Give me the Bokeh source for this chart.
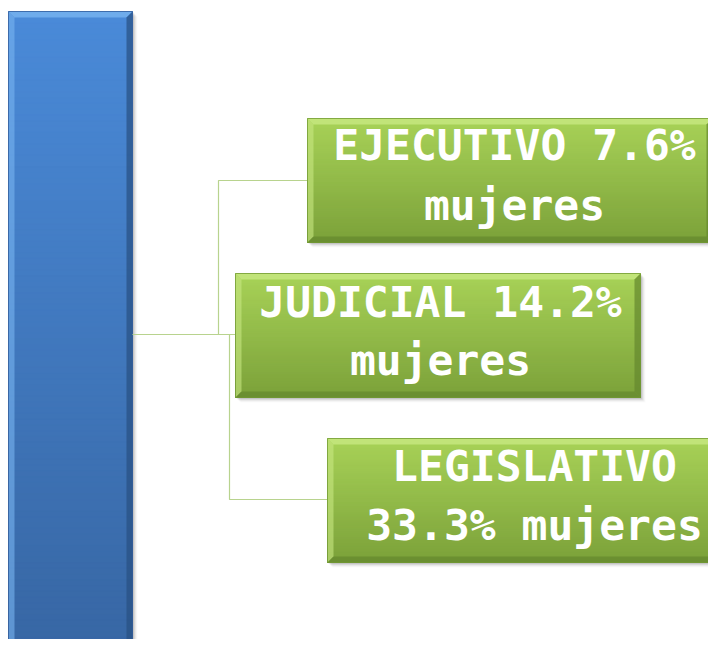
from bokeh.plotting import figure
from bokeh.models import Range1d
from bokeh.core.properties import value
from bokeh.embed import file_html
from bokeh.resources import INLINE

# ---- data ----
branches = ["EJECUTIVO", "JUDICIAL", "LEGISLATIVO"]
women_pct = [7.6, 14.2, 33.3]
unit = "mujeres"

line1 = [f"{branches[0]} {women_pct[0]}%", f"{branches[1]} {women_pct[1]}%", branches[2]]
line2 = [unit, unit, f"{women_pct[2]}% {unit}"]

# ---- layout (screen-pixel coordinates) ----
bar = dict(l=8, t=11, r=132, b=700)
boxes = [dict(l=307, t=118, r=712, b=242, tx=514, y1=144, y2=204, cy=180),
         dict(l=235, t=273, r=640, b=397, tx=440, y1=301, y2=359, cy=334),
         dict(l=327, t=438, r=745, b=562, tx=534, y1=465, y2=524, cy=499)]

p = figure(width=708, height=639, output_backend="svg", toolbar_location=None,
           x_range=Range1d(0, 708), y_range=Range1d(639, 0),
           min_border=0, outline_line_color=None, background_fill_color="white",
           border_fill_color="white")
p.axis.visible = False
p.grid.visible = False


def hexc(c):
    return "#%02x%02x%02x" % tuple(int(round(v)) for v in c)


def lerp(a, b, t):
    return tuple(a[i] + (b[i] - a[i]) * t for i in range(3))


def gradient_box(b, top_c, bot_c, light_c, dark_c, edge_c, n=40, bev=5, shadow=True):
    l, t, r, bt = b["l"], b["t"], b["r"], b["b"]
    if shadow:
        for k, a in zip(range(1, 6), [0.10, 0.08, 0.06, 0.04, 0.02]):
            p.quad(left=l + k, right=r + k, top=t + k, bottom=bt + k,
                   fill_color="black", fill_alpha=a, line_color=None)
    h = (bt - t) / n
    tops = [t + i * h for i in range(n)]
    bots = [min(t + (i + 1) * h + 2.0, bt) for i in range(n)]
    cols = [hexc(lerp(top_c, bot_c, i / (n - 1))) for i in range(n)]
    p.quad(left=[l] * n, right=[r] * n, top=tops, bottom=bots,
           fill_color=cols, line_color=cols, line_width=1)
    # bevels
    p.patch([l, r, r - bev, l + bev], [t, t, t + bev, t + bev],
            fill_color=hexc(light_c), fill_alpha=0.8, line_color=None)
    p.patch([l, l + bev, l + bev, l], [t, t + bev, bt - bev, bt],
            fill_color=hexc(light_c), fill_alpha=0.6, line_color=None)
    p.patch([r, r, r - bev, r - bev], [t, bt, bt - bev, t + bev],
            fill_color=hexc(dark_c), fill_alpha=0.7, line_color=None)
    p.patch([l, r, r - bev, l + bev], [bt, bt, bt - bev, bt - bev],
            fill_color=hexc(dark_c), fill_alpha=0.7, line_color=None)
    p.quad(left=l, right=r, top=t, bottom=bt, fill_color=None,
           line_color=hexc(edge_c), line_width=1, line_alpha=0.7)


# blue bar
gradient_box(bar, (74, 138, 216), (54, 100, 160), (120, 180, 240), (40, 80, 130),
             (50, 90, 150), n=120, bev=6)

# connectors
p.multi_line(xs=[[bar["r"], boxes[1]["l"]],
                 [218, 218, boxes[0]["l"]],
                 [229, 229, boxes[2]["l"]]],
             ys=[[boxes[1]["cy"], boxes[1]["cy"]],
                 [boxes[1]["cy"], boxes[0]["cy"], boxes[0]["cy"]],
                 [boxes[1]["cy"], boxes[2]["cy"], boxes[2]["cy"]]],
             line_color="#b8d38e", line_width=1.2)

# green boxes
for b in boxes:
    gradient_box(b, (168, 210, 88), (124, 162, 58), (200, 232, 130), (100, 135, 45),
                 (110, 150, 50), n=60, bev=6)

p.text(x=[b["tx"] for b in boxes] * 2,
       y=[b["y1"] for b in boxes] + [b["y2"] for b in boxes],
       text=line1 + line2,
       text_align="center", text_baseline="middle", text_color="white",
       text_font=value("DejaVu Sans Mono"), text_font_size="43px",
       text_font_style="bold")

open("out.html", "w").write(file_html(p, INLINE))
